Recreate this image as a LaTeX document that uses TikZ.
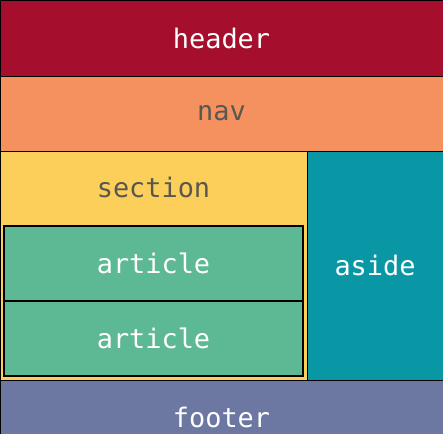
\documentclass[tikz,border=0pt]{standalone}
\usepackage{fontspec}
\setmonofont{DejaVu Sans Mono}
\usetikzlibrary{positioning}

\definecolor{headerred}{RGB}{165,15,45}
\definecolor{navorange}{RGB}{244,145,94}
\definecolor{sectionyellow}{RGB}{251,207,90}
\definecolor{articlegreen}{RGB}{93,184,148}
\definecolor{asideteal}{RGB}{9,151,166}
\definecolor{footerblue}{RGB}{108,119,162}
\definecolor{textgray}{RGB}{88,88,80}

\begin{document}
\begin{tikzpicture}
[x=1bp, y=1bp,
font=\ttfamily\fontsize{27}{30}\selectfont,
every node/.style={draw=black, line width=0.8bp, inner sep=0 pt, rectangle, text=white},
block/.style={minimum width=443bp, minimum height=75bp},
paper/.style={text=textgray}
]

\useasboundingbox (0,0) rectangle (443,434);
\clip (0,0) rectangle (443,434);

% page regions
\node[block, fill=headerred, minimum height=76bp] (header) at (221.5,396) {header};
\node[block, fill=navorange, paper] (nav) at (221.5,320.5) {nav};
\node[fill=sectionyellow, minimum width=307bp, minimum height=229bp] (section) at (153.5,168.5) {};
\node[fill=asideteal, minimum width=136bp, minimum height=229bp] (aside) at (375,168.5) {aside};
\node[block, fill=footerblue] (footer) at (221.5,16.5) {footer};

% section content
\node[draw=none, paper] (sectiontitle) at (153.5,247) {section};
\path foreach \y/\n in {170.5/1,95.5/2}
{(153.5,\y) node[fill=articlegreen, line width=1.6bp, minimum width=299bp, minimum height=75bp] (article\n) {article}}
;

\end{tikzpicture}
\end{document}
